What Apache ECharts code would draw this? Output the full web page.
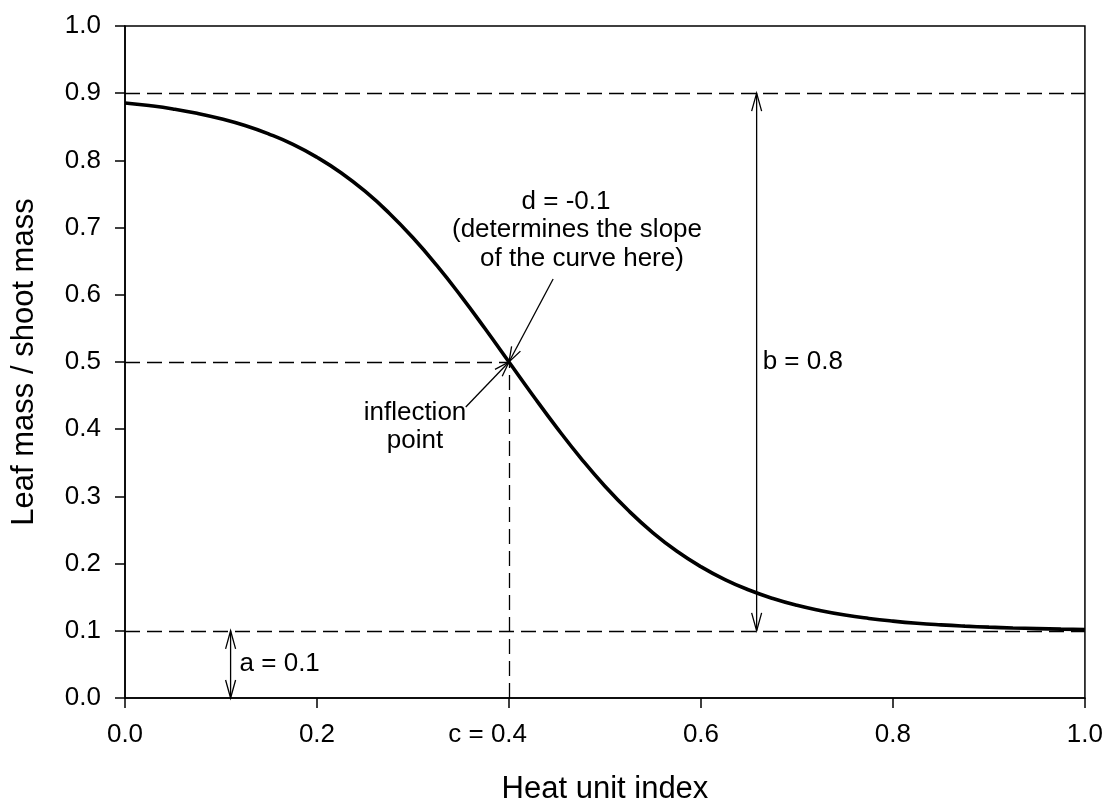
<!DOCTYPE html>
<html>
<head>
<meta charset="utf-8">
<title>Leaf mass / shoot mass vs heat unit index</title>
<script src="https://cdn.jsdelivr.net/npm/echarts@6/dist/echarts.min.js"></script>
<style>
  html, body { margin: 0; padding: 0; background: #fff; }
  #chart { width: 1106px; height: 803px; }
</style>
</head>
<body>
<div id="chart"></div>
<script>
// Leaf-to-shoot mass ratio along the heat unit index (logistic decline)
const heatIndex = [0.000, 0.025, 0.050, 0.075, 0.100, 0.125, 0.150, 0.175, 0.200, 0.225,
                   0.250, 0.275, 0.300, 0.325, 0.350, 0.375, 0.400, 0.425, 0.450, 0.475,
                   0.500, 0.525, 0.550, 0.575, 0.600, 0.625, 0.650, 0.675, 0.700, 0.725,
                   0.750, 0.775, 0.800, 0.825, 0.850, 0.875, 0.900, 0.925, 0.950, 0.975, 1.000];
const leafRatio = [0.8855, 0.8816, 0.8766, 0.8701, 0.8619, 0.8519, 0.8392, 0.8238, 0.8046, 0.7816,
                   0.7541, 0.7218, 0.6848, 0.6433, 0.5980, 0.5498, 0.5000, 0.4502, 0.4020, 0.3567,
                   0.3152, 0.2782, 0.2459, 0.2184, 0.1954, 0.1762, 0.1607, 0.1481, 0.1379, 0.1299,
                   0.1234, 0.1184, 0.1144, 0.1112, 0.1088, 0.1069, 0.1054, 0.1042, 0.1033, 0.1025, 0.1020];

const xTickLabels = ['0.0', '0.2', '0.4', '0.6', '0.8', '1.0'];
const yTickLabels = ['0.0', '0.1', '0.2', '0.3', '0.4', '0.5', '0.6', '0.7', '0.8', '0.9', '1.0'];

// Curve parameters shown on the chart
const paramA = 0.1;   // lower asymptote
const paramB = 0.8;   // range between asymptotes
const paramC = 0.4;   // inflection position
const paramD = -0.1;  // slope parameter

const FONT = '"Liberation Sans", Arial, Helvetica, sans-serif';
const chart = echarts.init(document.getElementById('chart'), null, { renderer: 'canvas' });

const dash = [15, 7];
const guideStyle = { color: '#000', width: 1.3, type: dash };

chart.setOption({
  animation: false,
  backgroundColor: '#fff',
  grid: { left: 125, right: 21, top: 26, bottom: 105, show: true, borderColor: '#000', borderWidth: 1.5 },
  xAxis: {
    type: 'value', min: 0, max: 1, interval: 0.2,
    axisLine: { show: true, onZero: false, lineStyle: { color: '#000', width: 1.5 } },
    axisTick: { show: true, length: 10, inside: false, lineStyle: { color: '#000', width: 1.5 } },
    splitLine: { show: false },
    axisLabel: {
      margin: 24, color: '#000', fontSize: 26, fontFamily: FONT,
      formatter: (v, i) => xTickLabels[i]
    }
  },
  yAxis: {
    type: 'value', min: 0, max: 1, interval: 0.1,
    axisLine: { show: true, onZero: false, lineStyle: { color: '#000', width: 1.5 } },
    axisTick: { show: true, length: 10, inside: false, lineStyle: { color: '#000', width: 1.5 } },
    splitLine: { show: false },
    axisLabel: {
      margin: 24, color: '#000', fontSize: 26, fontFamily: FONT,
      formatter: (v, i) => yTickLabels[i]
    }
  },
  series: [{
    type: 'line',
    data: heatIndex.map((x, i) => [x, leafRatio[i]]),
    smooth: 0.5,
    symbol: 'none',
    lineStyle: { color: '#000', width: 3.6 },
    z: 5,
    markLine: {
      silent: true,
      symbol: 'none',
      label: { show: false },
      lineStyle: guideStyle,
      data: [
        { yAxis: paramA + paramB },
        { yAxis: paramA },
        [{ coord: [0, paramA + paramB / 2] }, { coord: [paramC, paramA + paramB / 2] }],
        [{ coord: [paramC, 0] }, { coord: [paramC, paramA + paramB / 2] }]
      ]
    }
  }]
});

// Annotation layout in data units
const aArrowX = 0.11;
const bArrowX = 0.658;
const dArrowStart = [0.446, 0.6235];
const inflArrowStart = [0.355, 0.433];

const px = (p) => chart.convertToPixel({ gridIndex: 0 }, p);

function openHead(tip, from, len, half) {
  const dx = tip[0] - from[0], dy = tip[1] - from[1];
  const L = Math.hypot(dx, dy);
  const ux = dx / L, uy = dy / L;
  const bx = tip[0] - ux * len, by = tip[1] - uy * len;
  return [[bx - uy * half, by + ux * half], tip, [bx + uy * half, by - ux * half]];
}

const thin = { stroke: '#000', lineWidth: 1.3, fill: null };

function arrowEls(fromPt, toPt, doubleHead, len, half) {
  const els = [{ type: 'polyline', shape: { points: [fromPt, toPt] }, style: thin, silent: true }];
  els.push({ type: 'polyline', shape: { points: openHead(toPt, fromPt, len, half) }, style: thin, silent: true });
  if (doubleHead) {
    els.push({ type: 'polyline', shape: { points: openHead(fromPt, toPt, len, half) }, style: thin, silent: true });
  }
  return els;
}

function text(str, x, y, align, size) {
  return {
    type: 'text', x: x, y: y, silent: true,
    style: { text: str, x: 0, y: 0, align: align || 'center', verticalAlign: 'middle',
             fill: '#000', font: (size || 26) + 'px ' + FONT }
  };
}

const inflect = px([paramC, paramA + paramB / 2]);
const aBot = px([aArrowX, 0]), aTop = px([aArrowX, paramA]);
const bBot = px([bArrowX, paramA]), bTop = px([bArrowX, paramA + paramB]);
const dStart = px(dArrowStart);
const iStart = px(inflArrowStart);
const tick04 = px([paramC, 0]);
const gridLeft = px([0, 0]), gridRight = px([1, 1]);

const graphics = []
  .concat(arrowEls(aTop, aBot, true, 18, 5))
  .concat(arrowEls(bTop, bBot, true, 18, 5))
  .concat(arrowEls(dStart, inflect, false, 15, 5))
  .concat(arrowEls(iStart, inflect, false, 15, 5));

graphics.push(text('a = ' + paramA.toFixed(1), aBot[0] + 9, (aBot[1] + aTop[1]) / 2 - 1, 'left'));
graphics.push(text('b = ' + paramB.toFixed(1), bBot[0] + 6, (bBot[1] + bTop[1]) / 2, 'left'));
graphics.push(text('c = ', tick04[0] - 18, tick04[1] + 37, 'right'));
graphics.push(text('d = ' + paramD.toFixed(1), 566, 202));
graphics.push(text('(determines the slope', 577, 230));
graphics.push(text('of the curve here)', 582, 259));
graphics.push(text('inflection', 415, 413));
graphics.push(text('point', 415, 441));

// Axis titles
graphics.push(text('Heat unit index', (gridLeft[0] + gridRight[0]) / 2, 789, 'center', 31));
const yTitle = text('Leaf mass / shoot mass', 24, (gridLeft[1] + gridRight[1]) / 2, 'center', 31);
yTitle.rotation = Math.PI / 2;
graphics.push(yTitle);

chart.setOption({ graphic: graphics });
</script>
</body>
</html>
